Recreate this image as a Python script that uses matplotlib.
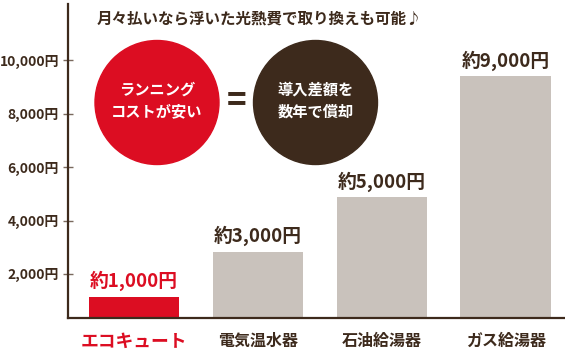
import matplotlib
matplotlib.use('Agg')
from matplotlib import pyplot as plt
from matplotlib.patches import Ellipse

plt.rcParams['font.family'] = ['Noto Sans CJK JP', 'DejaVu Sans']

categories = ['エコキュート', '電気温水器', '石油給湯器', 'ガス給湯器']
values = [1140, 2820, 4880, 9410]
value_labels = ['約1,000円', '約3,000円', '約5,000円', '約9,000円']
yticks = [2000, 4000, 6000, 8000, 10000]
ytick_labels = ['2,000円', '4,000円', '6,000円', '8,000円', '10,000円']
title = '月々払いなら浮いた光熱費で取り換えも可能♪'
circle_texts = ['ランニング\nコストが安い', '導入差額を\n数年で償却']

RED = '#dc0d22'
GRAY = '#c9c2bc'
BROWN = '#3d2a1c'

if __name__ == '__main__':
    fig = plt.figure(figsize=(5.65, 3.6), dpi=100)
    ax = fig.add_axes([0.1204, 0.1167, 0.8796, 0.872])

    colors = [RED] + [GRAY] * 3
    x = list(range(len(categories)))
    ax.bar(x, values, width=0.73, color=colors, zorder=2)

    for i, (v, lab) in enumerate(zip(values, value_labels)):
        ax.annotate(lab, (i, v), xytext=(0, 4), textcoords='offset points',
                    ha='center', va='bottom', fontsize=13.5, fontweight='bold',
                    color=RED if i == 0 else BROWN)

    ax.set_xlim(-0.534, 3.48)
    ax.set_ylim(350, 12110)
    ax.set_yticks(yticks)
    ax.set_yticklabels(ytick_labels, fontsize=10, fontweight='bold', color=BROWN)
    ax.set_xticks(x)
    ax.set_xticklabels(categories, fontsize=11.5, fontweight='bold', color=BROWN)
    ax.get_xticklabels()[0].set_color(RED)
    ax.get_xticklabels()[0].set_fontsize(12.8)
    ax.tick_params(axis='x', length=0, pad=11)
    ax.tick_params(axis='y', direction='inout', length=7, width=1,
                   color='#7a6a5e', pad=3)

    for s in ['top', 'right']:
        ax.spines[s].set_visible(False)
    for s in ['left', 'bottom']:
        ax.spines[s].set_color(BROWN)
        ax.spines[s].set_linewidth(1.6)

    fig.text(97 / 565, 1 - 18 / 360, title, fontsize=11.2, fontweight='bold',
             color=BROWN, ha='left', va='center')

    # circles (pixel positions converted to figure fraction)
    for (cx, cy), col, txt in zip([(157, 102.5), (315.5, 102.5)], [RED, BROWN], circle_texts):
        fig.add_artist(Ellipse((cx / 565, 1 - cy / 360), 124 / 565, 124 / 360,
                               transform=fig.transFigure, color=col, zorder=3))
        fig.text(cx / 565, 1 - (cy - 2) / 360, txt, fontsize=11, fontweight='bold',
                 color='white', ha='center', va='center', linespacing=1.45, zorder=4)
    fig.text(237 / 565, 1 - 101 / 360, '=', fontsize=24, fontweight='bold',
             color=BROWN, ha='center', va='center')

    plt.savefig('out.png', dpi=100)
